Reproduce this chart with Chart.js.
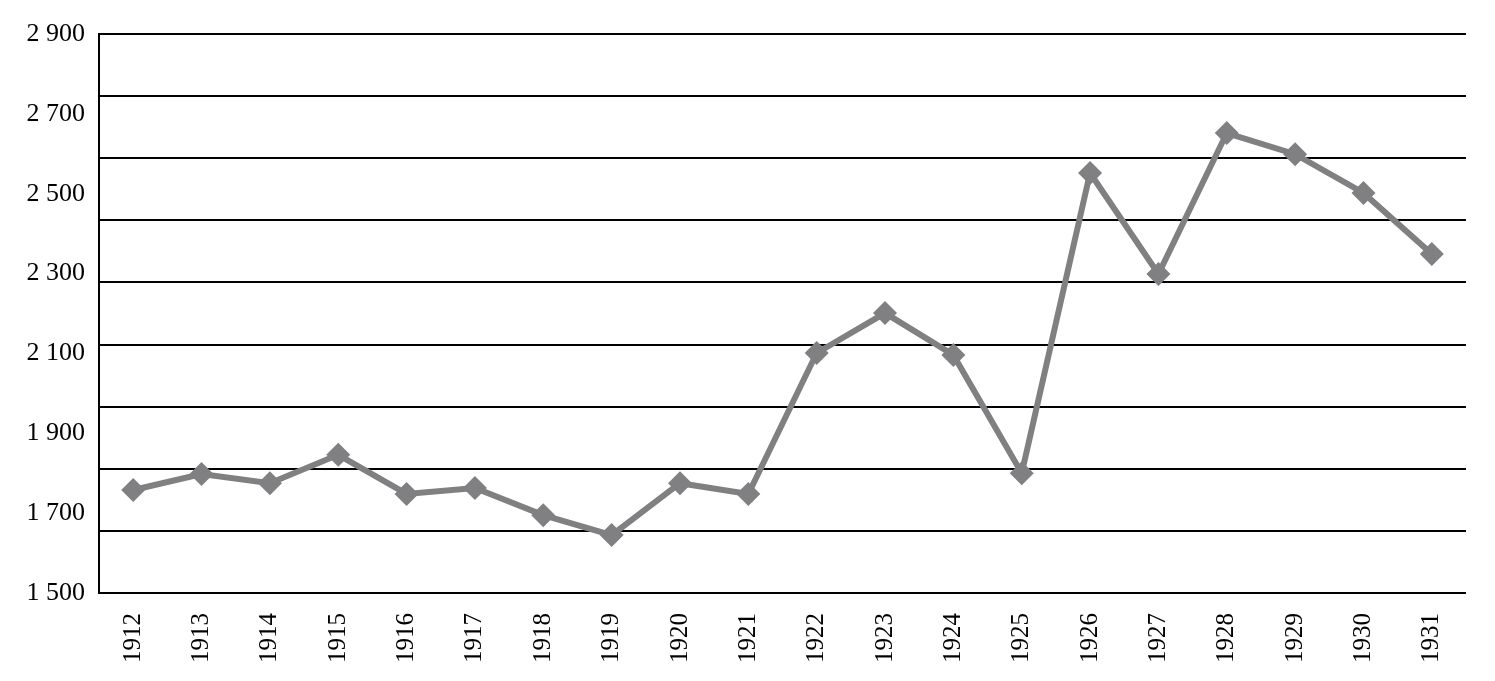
<!DOCTYPE html>
<html lang="en">
<head>
    <meta charset="UTF-8">
    <title>1912-1931</title>
    <script src="https://cdn.jsdelivr.net/npm/chart.js@4.4.1/dist/chart.umd.min.js"></script>
    <style>
        body { margin: 0; background: #fff; }
        .chart-container { width: 1495px; height: 681px; }
    </style>
</head>
<body>

    <!--chart canvas start-->
    <div class="chart-container">
        <canvas id="chart" width="1495" height="681"></canvas>
    </div>
    <!--chart canvas end-->

    <script>

    const years = ['1912', '1913', '1914', '1915', '1916', '1917', '1918', '1919', '1920', '1921',
                   '1922', '1923', '1924', '1925', '1926', '1927', '1928', '1929', '1930', '1931'];
    const values = [1758, 1798, 1775, 1846, 1748, 1763, 1695, 1645, 1775, 1748,
                    2101, 2201, 2096, 1800, 2552, 2299, 2652, 2599, 2502, 2349];
    const yTicks = [1500, 1700, 1900, 2100, 2300, 2500, 2700, 2900];
    const yMin = 1500;
    const yMax = 2900;
    const gridCount = 9; // horizontal bands between the black rules

    const serif = "'Liberation Serif', 'DejaVu Serif', serif";

    const ctx = document.getElementById('chart').getContext('2d');

    const myChart = new Chart(ctx, {
        type: 'line',
        data: {
            labels: years,
            datasets: [
                {
                    data: values,
                    borderColor: '#808083',
                    borderWidth: 6,
                    pointStyle: 'rectRot',
                    pointRadius: 12,
                    pointHoverRadius: 12,
                    pointBackgroundColor: '#808083',
                    pointBorderWidth: 0,
                    tension: 0,
                    fill: false
                }
            ]
        },
        options: {
            responsive: false,
            devicePixelRatio: 1,
            animation: false,
            layout: {
                padding: { top: 34, right: 29, left: 0, bottom: 0 }
            },
            plugins: {
                legend: { display: false },
                tooltip: { enabled: false }
            },
            scales: {
                x: {
                    offset: true,
                    grid: { display: false },
                    border: { display: false },
                    ticks: {
                        minRotation: 90,
                        maxRotation: 90,
                        padding: 12,
                        color: '#000',
                        font: { family: serif, size: 25 }
                    },
                    afterFit: function(scale) { scale.height = 88; }
                },
                y: {
                    position: 'left',
                    weight: 2,
                    min: yMin,
                    max: yMax,
                    grid: { display: false },
                    border: { display: false },
                    afterBuildTicks: function(scale) {
                        scale.ticks = yTicks.map(v => ({ value: v }));
                    },
                    ticks: {
                        padding: 6,
                        color: '#000',
                        font: { family: serif, size: 26 },
                        callback: function(value) {
                            // thousands separated by a space
                            const s = String(value);
                            return s.slice(0, -3) + ' ' + s.slice(-3);
                        }
                    },
                    afterFit: function(scale) { scale.width = 99; }
                },
                yGrid: {
                    position: 'left',
                    weight: 0,
                    min: yMin,
                    max: yMax,
                    afterBuildTicks: function(scale) {
                        const ticks = [];
                        for (let i = 0; i <= gridCount; i++) {
                            ticks.push({ value: yMin + (yMax - yMin) * i / gridCount });
                        }
                        scale.ticks = ticks;
                    },
                    ticks: { display: false },
                    grid: {
                        color: '#000',
                        lineWidth: 2,
                        drawTicks: false
                    },
                    border: { display: true, color: '#000', width: 2 },
                    afterFit: function(scale) { scale.width = 0; }
                }
            }
        }
    });

    </script>

</body>
</html>
